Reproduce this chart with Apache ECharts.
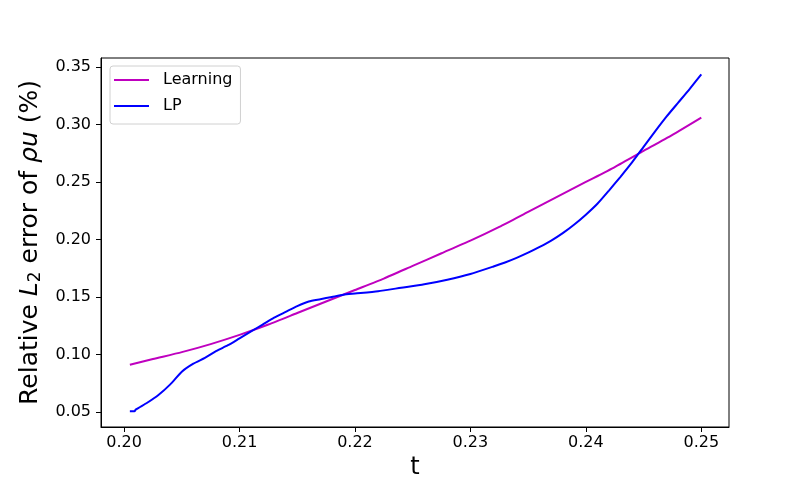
<!DOCTYPE html>
<html>
<head>
<meta charset="utf-8">
<script src="https://cdn.jsdelivr.net/npm/echarts@6/dist/echarts.min.js"></script>
<style>
  html, body { margin: 0; padding: 0; background: #fff; }
  #chart { width: 810px; height: 480px; }
</style>
</head>
<body>
<div id="chart"></div>
<script>
// values
const tLearning = [0.2005, 0.2025, 0.205, 0.2075, 0.21, 0.2125, 0.215, 0.2175, 0.22, 0.2225,
  0.225, 0.2275, 0.23, 0.2325, 0.235, 0.2375, 0.24, 0.2425, 0.245, 0.2475, 0.25]
const learning = [0.091, 0.096, 0.102, 0.109, 0.117, 0.126, 0.136, 0.146, 0.156, 0.166,
  0.177, 0.188, 0.199, 0.211, 0.224, 0.237, 0.250, 0.263, 0.277, 0.291, 0.306]

const tLP = [0.2005, 0.2009, 0.201, 0.202, 0.203, 0.204, 0.205, 0.206, 0.207, 0.208, 0.209,
  0.210, 0.211, 0.212, 0.213, 0.214, 0.215, 0.216, 0.217, 0.218, 0.219, 0.220, 0.222, 0.224,
  0.226, 0.228, 0.230, 0.232, 0.233, 0.234, 0.235, 0.236, 0.237, 0.238, 0.239, 0.240, 0.241,
  0.242, 0.243, 0.244, 0.245, 0.246, 0.247, 0.248, 0.249, 0.250]
const lp = [0.0505, 0.0505, 0.052, 0.058, 0.065, 0.074, 0.085, 0.092, 0.097, 0.103, 0.108,
  0.114, 0.120, 0.126, 0.132, 0.137, 0.142, 0.146, 0.148, 0.150, 0.152, 0.153, 0.155, 0.158,
  0.161, 0.165, 0.170, 0.1765, 0.180, 0.184, 0.1885, 0.1935, 0.199, 0.2055, 0.213, 0.2215, 0.231,
  0.2425, 0.2545, 0.267, 0.2805, 0.294, 0.307, 0.319, 0.331, 0.3436]

const xTicks = [0.20, 0.21, 0.22, 0.23, 0.24, 0.25]
const yTicks = [0.05, 0.10, 0.15, 0.20, 0.25, 0.30, 0.35]

const font = 'DejaVu Sans'
const pair = (xs, ys) => xs.map((x, i) => [x, ys[i]])

const chart = echarts.init(document.getElementById('chart'))
chart.setOption({
  animation: false,
  backgroundColor: '#fff',
  grid: {
    left: 101, right: 81, top: 58, bottom: 53,
    outerBoundsMode: 'none',
    containLabel: false,
    show: true, borderColor: '#000', borderWidth: 1
  },
  legend: {
    orient: 'vertical',
    left: 110, top: 66,
    padding: [6, 8, 10, 4],
    itemGap: 10,
    itemWidth: 35,
    itemHeight: 2,
    icon: 'rect',
    borderColor: '#d0d0d0',
    borderWidth: 1,
    borderRadius: 3,
    backgroundColor: 'rgba(255,255,255,0.8)',
    textStyle: { fontFamily: font, fontSize: 16, color: '#000', lineHeight: 16, padding: [0, 0, 0, 9] },
    data: ['Learning', 'LP']
  },
  xAxis: {
    type: 'value',
    min: 0.198, max: 0.2524,
    name: 't',
    nameLocation: 'middle',
    nameGap: 28,
    nameTextStyle: { fontFamily: font, fontSize: 24, color: '#000' },
    axisLine: { show: true, onZero: false, lineStyle: { color: '#000', width: 1 } },
    axisTick: { show: true, length: 5, lineStyle: { color: '#000' }, customValues: xTicks },
    axisLabel: {
      fontFamily: font, fontSize: 16, color: '#000', margin: 8,
      customValues: xTicks,
      formatter: v => v.toFixed(2)
    },
    splitLine: { show: false }
  },
  yAxis: {
    type: 'value',
    min: 0.0369, max: 0.3578,
    name: 'Relative {i|L}{sub|2} error of {i|ρu} (%)',
    nameLocation: 'middle',
    nameRotate: 90,
    nameGap: 56,
    nameTextStyle: {
      fontFamily: font, fontSize: 25, color: '#000',
      rich: {
        i: { fontFamily: font, fontSize: 25, fontStyle: 'italic', color: '#000' },
        sub: { fontFamily: font, fontSize: 17, color: '#000', verticalAlign: 'bottom', padding: [11, 0, 0, 0] }
      }
    },
    axisLine: { show: true, onZero: false, lineStyle: { color: '#000', width: 1 } },
    axisTick: { show: true, length: 5, lineStyle: { color: '#000' }, customValues: yTicks },
    axisLabel: {
      fontFamily: font, fontSize: 16, color: '#000', margin: 10,
      customValues: yTicks,
      formatter: v => v.toFixed(2)
    },
    splitLine: { show: false }
  },
  series: [
    {
      name: 'Learning',
      type: 'line',
      data: pair(tLearning, learning),
      showSymbol: false,
      smooth: 0.2,
      color: '#bf00bf',
      lineStyle: { width: 2, color: '#bf00bf' }
    },
    {
      name: 'LP',
      type: 'line',
      data: pair(tLP, lp),
      showSymbol: false,
      smooth: 0.2,
      color: '#0000ff',
      lineStyle: { width: 2, color: '#0000ff' }
    }
  ]
})
</script>
</body>
</html>
